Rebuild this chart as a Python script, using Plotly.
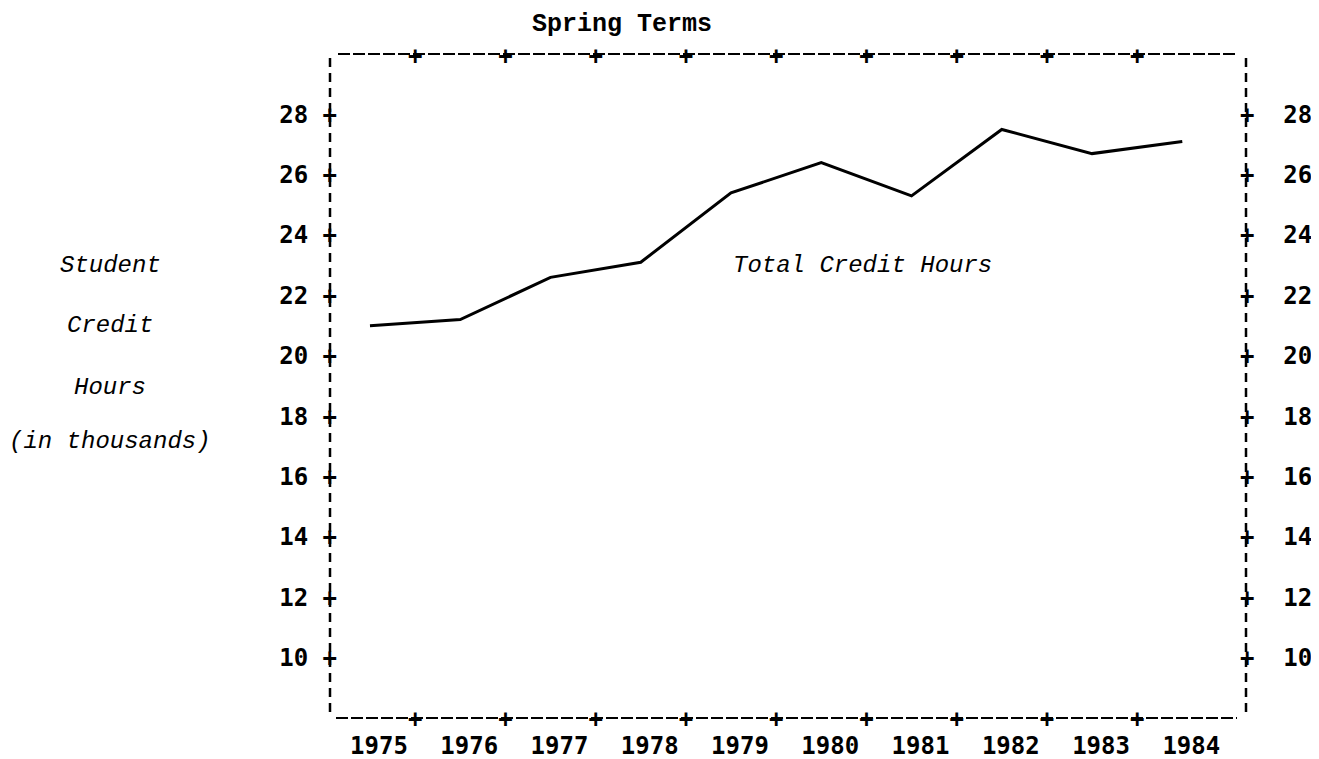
import plotly.graph_objects as go

# ---- data ----
years = [1975, 1976, 1977, 1978, 1979, 1980, 1981, 1982, 1983, 1984]
credit_hours = [21.0, 21.2, 22.6, 23.1, 25.4, 26.4, 25.3, 27.5, 26.7, 27.1]  # thousands
year_labels = ["1975", "1976", "1977", "1978", "1979", "1980", "1981", "1982", "1983", "1984"]
y_ticks = [10, 12, 14, 16, 18, 20, 22, 24, 26, 28]
divider_ticks = [1975.5, 1976.5, 1977.5, 1978.5, 1979.5, 1980.5, 1981.5, 1982.5, 1983.5]
series_name = "Total Credit Hours"
y_title_lines = ["Student", "Credit", "Hours", "(in thousands)"]
chart_title = "Spring Terms"

# page body has an 8px default margin; layout is expressed in page pixels
OFF = 8
W, H = 1311, 759
ML, MR, MT, MB = 322, 73, 46, 49
X_RANGE = [1974.557, 1984.706]
Y_RANGE = [8, 30]

MONO_B = dict(family="DejaVu Sans Mono", size=24, color="black", weight="bold")
TYPE_I = dict(family="Liberation Mono", size=24, color="black", style="italic")

fig = go.Figure()
fig.add_trace(go.Scatter(
    x=years, y=credit_hours, mode="lines",
    line=dict(color="black", width=3),
    showlegend=False, hoverinfo="skip",
))
# empty traces so the overlaying axes are instantiated
fig.add_trace(go.Scatter(x=[], y=[], xaxis="x2", yaxis="y2", showlegend=False))
fig.add_trace(go.Scatter(x=[], y=[], xaxis="x3", yaxis="y", showlegend=False))

common = dict(showgrid=False, zeroline=False, showline=False, ticks="",
              fixedrange=True, automargin=False)

fig.update_layout(
    width=W, height=H,
    margin=dict(l=ML, r=MR, t=MT, b=MB, pad=0, autoexpand=False),
    paper_bgcolor="white", plot_bgcolor="white",
    showlegend=False,
    xaxis=dict(range=X_RANGE, tickmode="array", tickvals=years, ticktext=year_labels,
               tickfont=MONO_B, ticklabelshift=9, ticklabelstandoff=11, **common),
    xaxis2=dict(range=X_RANGE, overlaying="x", side="bottom", anchor="y",
                tickmode="array", tickvals=divider_ticks, ticktext=["+"] * len(divider_ticks),
                tickfont=MONO_B, ticklabelstandoff=-16, **common),
    xaxis3=dict(range=X_RANGE, overlaying="x", side="top", anchor="y",
                tickmode="array", tickvals=divider_ticks, ticktext=["+"] * len(divider_ticks),
                tickfont=MONO_B, ticklabelstandoff=-16, **common),
    yaxis=dict(range=Y_RANGE, tickmode="array", tickvals=y_ticks,
               ticktext=[f"{v} +" for v in y_ticks], tickfont=MONO_B,
               ticklabelstandoff=-8, **common),
    yaxis2=dict(range=Y_RANGE, overlaying="y", side="right", anchor="x2",
                tickmode="array", tickvals=y_ticks,
                ticktext=[f"+  {v}" for v in y_ticks], tickfont=MONO_B,
                ticklabelstandoff=-7, **common),
)

# dashed frame
pw, ph = W - ML - MR, H - MT - MB
def px_x(p):
    return (p - OFF - ML) / pw
def px_y(p):
    return (H - MB - (p - OFF)) / ph

fig.add_shape(type="line", xref="paper", yref="paper", x0=px_x(338), x1=px_x(1237), y0=1, y1=1,
              line=dict(color="black", width=2, dash="12px,3px"))
fig.add_shape(type="line", xref="paper", yref="paper", x0=px_x(336), x1=px_x(1237), y0=0, y1=0,
              line=dict(color="black", width=2, dash="12px,3px"))
fig.add_shape(type="line", xref="paper", yref="paper", x0=0, x1=0, y0=px_y(58), y1=px_y(715),
              line=dict(color="black", width=2.5, dash="9px,6px"))
fig.add_shape(type="line", xref="paper", yref="paper", x0=1, x1=1, y0=px_y(58), y1=px_y(718),
              line=dict(color="black", width=2.5, dash="9px,6px"))

# title
fig.add_annotation(text=chart_title, xref="paper", yref="paper", x=px_x(622), y=px_y(25),
                   showarrow=False, xanchor="center", yanchor="middle",
                   font=dict(family="Liberation Mono", size=25, color="black", weight="bold"))

# y-axis title lines
for line_txt, yc in zip(y_title_lines, [265, 325, 387, 442]):
    fig.add_annotation(text=line_txt, xref="paper", yref="paper", x=px_x(110), y=px_y(yc),
                       showarrow=False, xanchor="center", yanchor="middle", font=TYPE_I)

# series label
fig.add_annotation(text=series_name, xref="paper", yref="paper", x=px_x(862), y=px_y(265),
                   showarrow=False, xanchor="center", yanchor="middle", font=TYPE_I)

fig.write_html("out.html")
